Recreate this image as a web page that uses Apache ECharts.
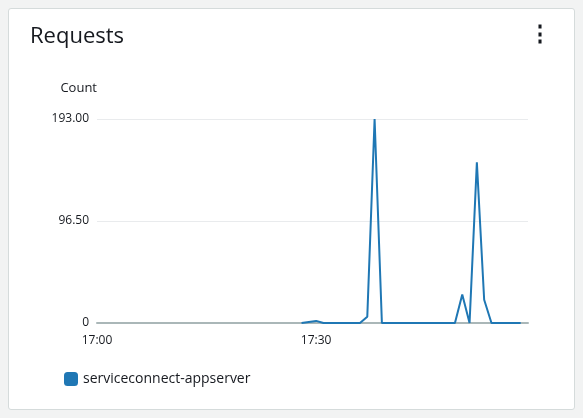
<!DOCTYPE html>
<html>
<head>
<meta charset="utf-8">
<script src="https://cdn.jsdelivr.net/npm/echarts@6/dist/echarts.min.js"></script>
<style>
  html, body { margin: 0; padding: 0; background: #f2f3f3; }
  #card { position: absolute; left: 8px; top: 8px; width: 565px; height: 400px; background: #fff; border: 1px solid #d5dbdb; border-radius: 3px; }
  #chart { width: 565px; height: 400px; }
</style>
</head>
<body>
<div id="card"><div id="chart"></div></div>
<script>
// minutes after 17:00 and request counts
var minutes = [28, 29, 30, 31, 32, 33, 34, 35, 36, 37, 38, 39, 40, 41, 42, 43, 44, 45, 46, 47, 48, 49, 50, 51, 52, 53, 54, 55, 56, 57, 58];
var counts  = [0, 1, 2, 0, 0, 0, 0, 0, 0, 6, 193, 0, 0, 0, 0, 0, 0, 0, 0, 0, 0, 0, 27, 0, 152, 22, 0, 0, 0, 0, 0];
var yTicks = [0, 96.5, 193];
var seriesName = 'serviceconnect-appserver';

var base = new Date(2024, 0, 1, 17, 0, 0).getTime();
var points = minutes.map(function (m, i) { return [base + m * 60000, counts[i]]; });

var chart = echarts.init(document.getElementById('chart'));
chart.setOption({
  animation: false,
  textStyle: { fontFamily: 'Open Sans, Arial, sans-serif' },
  title: [
    { text: 'Requests', left: 16, top: 12, textStyle: { fontSize: 22, fontWeight: 'normal', color: '#16191f' } },
    { text: '⋮', right: 18, top: 10, textStyle: { fontSize: 22, fontWeight: 'bold', color: '#16191f' } }
  ],
  legend: {
    data: [seriesName], left: 50, bottom: 18, icon: 'roundRect', itemWidth: 14, itemHeight: 14,
    textStyle: { fontSize: 14, color: '#16191f' }
  },
  grid: { left: 88, right: 46, top: 110, bottom: 86 },
  xAxis: {
    type: 'time', min: base, max: base + 59 * 60000,
    minInterval: 15 * 60000, maxInterval: 15 * 60000,
    axisLine: { lineStyle: { color: '#aab7b8', width: 2 } },
    axisTick: { show: false }, splitLine: { show: false },
    axisLabel: { color: '#16191f', fontSize: 12, margin: 12, showMaxLabel: false, formatter: function (v) { var d = new Date(v); return d.getMinutes() % 15 ? '' : d.getHours() + ':' + String(d.getMinutes()).padStart(2, '0'); } }
  },
  yAxis: {
    type: 'value', name: 'Count', min: 0, max: 193, interval: 96.5,
    nameLocation: 'end', nameGap: 24, nameTextStyle: { color: '#16191f', fontSize: 13, align: 'right' },
    axisLabel: { color: '#16191f', fontSize: 12, formatter: function (v) { return v === 0 ? '0' : v.toFixed(2); } },
    splitLine: { lineStyle: { color: '#e9ebed' } }
  },
  series: [{
    name: seriesName, type: 'line', data: points, showSymbol: false,
    lineStyle: { color: '#1f77b4', width: 2 }, itemStyle: { color: '#1f77b4' }
  }]
});
</script>
</body>
</html>
